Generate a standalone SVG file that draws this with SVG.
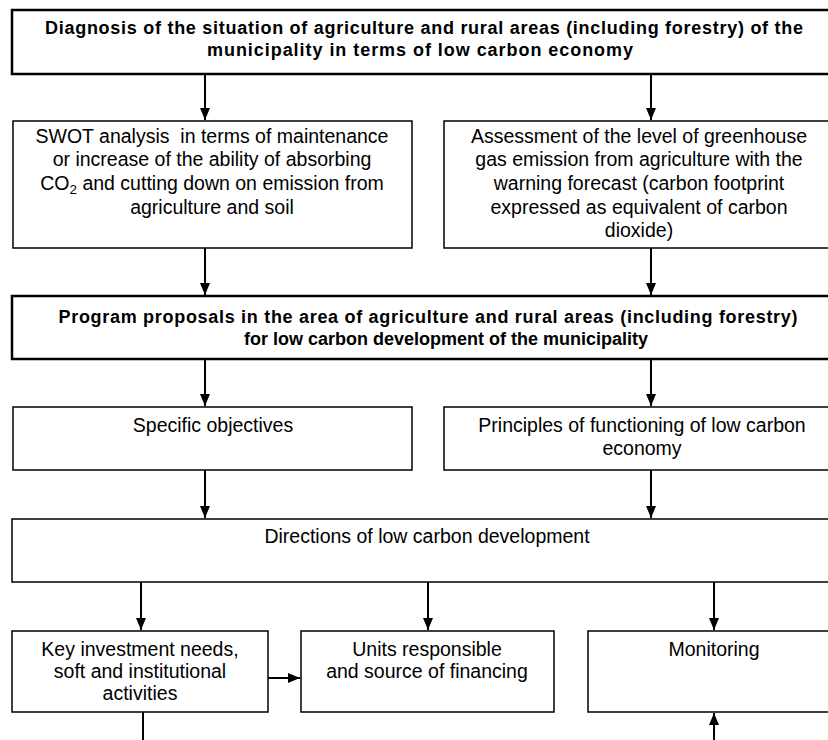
<svg xmlns="http://www.w3.org/2000/svg" width="828" height="740" viewBox="0 0 828 740">
<style>
.bg{fill:#fff}
.box{fill:#fff;stroke:#000;stroke-width:1.5}
.thick{fill:#fff;stroke:#000;stroke-width:2.5}
.t{font-family:"Liberation Sans",Arial,sans-serif;font-size:19.5px;fill:#000;text-anchor:middle}
.b{font-family:"Liberation Sans",Arial,sans-serif;font-size:18px;font-weight:bold;fill:#000;text-anchor:middle}
.c{stroke:#000;stroke-width:2;fill:none}
</style>
<defs>
<marker id="ah" markerUnits="userSpaceOnUse" markerWidth="12" markerHeight="12" viewBox="0 0 12 12" refX="12" refY="6" orient="auto">
<path d="M0,1 L12,6 L0,11 Z" fill="#000"/>
</marker>
</defs>
<rect class="bg" x="0" y="0" width="828" height="740"/>
<g id="connectors">
<line class="c" x1="205" y1="75" x2="205" y2="120" marker-end="url(#ah)"/>
<line class="c" x1="651" y1="75" x2="651" y2="120" marker-end="url(#ah)"/>
<line class="c" x1="205" y1="248" x2="205" y2="295" marker-end="url(#ah)"/>
<line class="c" x1="651" y1="248" x2="651" y2="295" marker-end="url(#ah)"/>
<line class="c" x1="205" y1="360" x2="205" y2="406" marker-end="url(#ah)"/>
<line class="c" x1="651" y1="360" x2="651" y2="406" marker-end="url(#ah)"/>
<line class="c" x1="205" y1="470" x2="205" y2="518" marker-end="url(#ah)"/>
<line class="c" x1="651" y1="470" x2="651" y2="518" marker-end="url(#ah)"/>
<line class="c" x1="141" y1="582" x2="141" y2="630" marker-end="url(#ah)"/>
<line class="c" x1="428" y1="582" x2="428" y2="630" marker-end="url(#ah)"/>
<line class="c" x1="714" y1="582" x2="714" y2="630" marker-end="url(#ah)"/>
<line class="c" x1="268" y1="678" x2="300" y2="678" marker-end="url(#ah)"/>
<line class="c" x1="143" y1="712" x2="143" y2="740"/>
<line class="c" x1="714" y1="740" x2="714" y2="713" marker-end="url(#ah)"/>
</g>
<g id="diagnosis">
<rect class="thick" x="12" y="10" width="830" height="64"/>
<text class="b" x="424" y="34" textLength="758" lengthAdjust="spacing">Diagnosis of the situation of agriculture and rural areas (including forestry) of the</text>
<text class="b" x="420" y="56" textLength="426" lengthAdjust="spacing">municipality in terms of low carbon economy</text>
</g>
<g id="swot">
<rect class="box" x="13" y="121" width="399" height="127"/>
<text class="t" x="212" y="143" xml:space="preserve">SWOT analysis  in terms of maintenance</text>
<text class="t" x="212" y="166">or increase of the ability of absorbing</text>
<text class="t" x="212" y="190">CO<tspan font-size="13.5" dy="4">2</tspan><tspan dy="-4"> and cutting down on emission from</tspan></text>
<text class="t" x="212" y="214">agriculture and soil</text>
</g>
<g id="assessment">
<rect class="box" x="444" y="121" width="400" height="127"/>
<text class="t" x="639" y="143">Assessment of the level of greenhouse</text>
<text class="t" x="639" y="166">gas emission from agriculture with the</text>
<text class="t" x="639" y="190">warning forecast (carbon footprint</text>
<text class="t" x="639" y="214">expressed as equivalent of carbon</text>
<text class="t" x="639" y="237">dioxide)</text>
</g>
<g id="program">
<rect class="thick" x="12" y="296" width="830" height="63"/>
<text class="b" x="428" y="323" textLength="739" lengthAdjust="spacing">Program proposals in the area of agriculture and rural areas (including forestry)</text>
<text class="b" x="446" y="345">for low carbon development of the municipality</text>
</g>
<g id="objectives">
<rect class="box" x="13" y="407" width="399" height="63"/>
<text class="t" x="213" y="432">Specific objectives</text>
</g>
<g id="principles">
<rect class="box" x="444" y="407" width="400" height="63"/>
<text class="t" x="642" y="432">Principles of functioning of low carbon</text>
<text class="t" x="642" y="455">economy</text>
</g>
<g id="directions">
<rect class="box" x="12" y="519" width="830" height="63"/>
<text class="t" x="427" y="543">Directions of low carbon development</text>
</g>
<g id="key">
<rect class="box" x="12" y="631" width="256" height="81"/>
<text class="t" x="140" y="656">Key investment needs,</text>
<text class="t" x="140" y="678">soft and institutional</text>
<text class="t" x="140" y="700">activities</text>
</g>
<g id="units">
<rect class="box" x="301" y="631" width="253" height="81"/>
<text class="t" x="427" y="656">Units responsible</text>
<text class="t" x="427" y="678">and source of financing</text>
</g>
<g id="monitoring">
<rect class="box" x="588" y="631" width="250" height="81"/>
<text class="t" x="714" y="656">Monitoring</text>
</g>
</svg>
